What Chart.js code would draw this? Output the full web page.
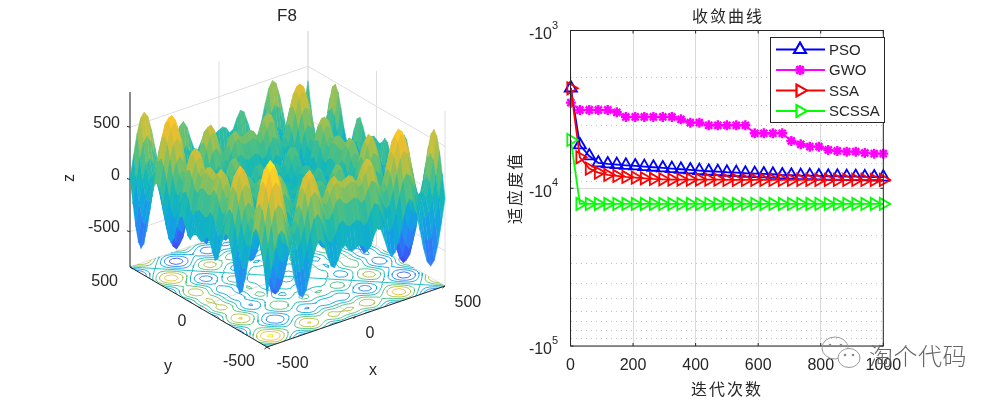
<!DOCTYPE html>
<html>
<head>
<meta charset="utf-8">
<style>
  html, body { margin: 0; background: #fff; }
  canvas { position: absolute; top: 0; }
  #chartSurface { left: 0; }
  #chartCurve { left: 500px; }
</style>
<script src="https://cdn.jsdelivr.net/npm/chart.js@4/dist/chart.umd.min.js"></script>
</head>
<body>
<canvas id="chartSurface" width="500" height="400"></canvas>
<canvas id="chartCurve" width="500" height="400"></canvas>
<script>
// convergence curves, magnitudes (the axis shows them as negative)
const iterations = [1,30,60,89,119,148,177,207,236,265,295,324,353,383,412,442,471,500,530,559,589,618,647,677,706,736,765,794,824,853,883,912,941,971,1000]
const pso = [2314,5317,6243,6914,7015,7086,7155,7223,7296,7360,7436,7511,7578,7656,7736,7803,7849,7918,7963,8034,8082,8118,8154,8237,8273,8320,8320,8356,8395,8395,8443,8443,8470,8490,8500]
const gwo = [2866,3191,3191,3191,3191,3301,3534,3534,3534,3534,3534,3534,3656,3839,3839,3990,3990,3990,3990,3990,4484,4484,4484,4484,5015,5265,5447,5447,5720,5805,5861,5861,5976,6034,6034]
const ssa = [2326,6365,7509,7960,8237,8359,8480,8564,8649,8733,8776,8816,8816,8816,8816,8816,8816,8859,8859,8859,8859,8859,8859,8859,8859,8859,8859,8859,8859,8859,8859,8859,8859,8859,8859]
const scssa = [4944,12577,12577,12577,12577,12577,12577,12577,12577,12577,12577,12577,12577,12577,12577,12577,12577,12577,12577,12577,12577,12577,12577,12577,12577,12577,12577,12577,12577,12577,12577,12577,12577,12577,12577]
const curveNames = ['PSO', 'GWO', 'SSA', 'SCSSA']
const curveXTicks = [0, 200, 400, 600, 800, 1000]
const curveYMajor = [1000, 10000, 100000]
const curveYMinor = [2000,3000,4000,5000,6000,7000,8000,9000,20000,30000,40000,50000,60000,70000,80000,90000]

// surface: height contribution along a floor axis
const floorSamples = [-500,-480,-460,-440,-420,-400,-380,-360,-340,-320,-300,-280,-260,-240,-220,-200,-180,-160,-140,-120,-100,-80,-60,-40,-20,0,20,40,60,80,100,120,140,160,180,200,220,240,260,280,300,320,340,360,380,400,420,440,460,480,500]
const edgeHeights = [-181,39,238,374,419,365,228,45,-136,-263,-300,-239,-105,51,169,200,135,13,-94,-120,-54,37,60,2,-19,0,19,-2,-60,-37,54,120,94,-13,-135,-200,-169,-51,105,239,300,263,136,-45,-228,-365,-419,-374,-238,-39,181]
const surfaceTicksXY = [-500, 0, 500]
const surfaceTicksZ = [-500, 0, 500]
const contourLevels = [-800,-600,-400,-200,0,200,400,600,800]
const zLimit = 837

const surfaceMap = [[62,60,230],[60,85,245],[40,135,245],[15,165,225],[20,184,185],[85,192,125],[185,192,65],[248,190,45],[250,240,30]]
const textColor = '#262626'
const latin = '"Liberation Sans", Arial, sans-serif'
const cjk = '"Noto Sans CJK SC", sans-serif'

function heightColor(z) {
    const t = Math.min(0.9999, Math.max(0, (z + zLimit) / (2 * zLimit))) * (surfaceMap.length - 1)
    const k = Math.floor(t), f = t - k
    const a = surfaceMap[k], b = surfaceMap[k + 1]
    return 'rgb(' + [0, 1, 2].map(c => Math.round(a[c] + (b[c] - a[c]) * f)).join(',') + ')'
}

// orthographic view of the box, x and y in data units, result in canvas pixels
function project(x, y, z) {
    const u = (x + 500) / 1000, v = (y + 500) / 1000
    return {
        x: 267 + u * 178 - v * 137,
        y: 347 - u * 61 - v * 80 - (z + zLimit) * 0.1045
    }
}

function drawText(ctx, text, x, y, font, opts) {
    opts = opts || {}
    ctx.save()
    ctx.translate(x, y)
    if (opts.rotate) ctx.rotate(opts.rotate)
    ctx.font = font
    ctx.fillStyle = opts.color || textColor
    ctx.textAlign = opts.align || 'center'
    ctx.textBaseline = 'middle'
    if (opts.spacing) ctx.letterSpacing = opts.spacing
    ctx.fillText(text, 0, 0)
    ctx.restore()
}

function lineSet(points, color, width) {
    return {
        type: 'line', data: points, borderColor: color, borderWidth: width,
        pointRadius: 0, tension: 0, fill: false, spanGaps: false
    }
}

function segmentsToPoints(segments) {
    const pts = []
    segments.forEach(s => { pts.push(s[0], s[1], { x: NaN, y: NaN }) })
    return pts
}

function contourSegments(level) {
    const segs = [], n = floorSamples.length
    const h = (i, j) => edgeHeights[i] + edgeHeights[j] - level
    const cross = (i1, j1, i2, j2) => {
        const a = h(i1, j1), b = h(i2, j2), t = a / (a - b)
        const x = floorSamples[i1] + (floorSamples[i2] - floorSamples[i1]) * t
        const y = floorSamples[j1] + (floorSamples[j2] - floorSamples[j1]) * t
        return project(x, y, -zLimit)
    }
    for (let i = 0; i < n - 1; i++) {
        for (let j = 0; j < n - 1; j++) {
            const edges = [[i, j, i + 1, j], [i + 1, j, i + 1, j + 1], [i + 1, j + 1, i, j + 1], [i, j + 1, i, j]]
            const hits = edges.filter(e => (h(e[0], e[1]) >= 0) !== (h(e[2], e[3]) >= 0)).map(e => cross(e[0], e[1], e[2], e[3]))
            if (hits.length >= 2) segs.push([hits[0], hits[1]])
            if (hits.length === 4) segs.push([hits[2], hits[3]])
        }
    }
    return segs
}

function surfaceDatasets() {
    const sets = [], n = floorSamples.length

    // walls and floor grid
    const grid = []
    surfaceTicksXY.forEach(t => {
        grid.push([project(t, -500, -zLimit), project(t, 500, -zLimit)])
        grid.push([project(-500, t, -zLimit), project(500, t, -zLimit)])
        grid.push([project(t, 500, -zLimit), project(t, 500, zLimit)])
        grid.push([project(500, t, -zLimit), project(500, t, zLimit)])
    })
    surfaceTicksZ.forEach(t => {
        grid.push([project(-500, 500, t), project(500, 500, t)])
        grid.push([project(500, 500, t), project(500, -500, t)])
    })
    sets.push(lineSet(segmentsToPoints(grid), '#dedede', 1))

    contourLevels.forEach(level => {
        sets.push(lineSet(segmentsToPoints(contourSegments(level)), heightColor(level), 0.9))
    })

    // axes with their tick marks
    const axes = [
        [project(-500, -500, -zLimit), project(500, -500, -zLimit)],
        [project(-500, -500, -zLimit), project(-500, 500, -zLimit)],
        [project(-500, 500, -zLimit), project(-500, 500, zLimit)]
    ]
    surfaceTicksXY.forEach(t => {
        const a = project(t, -500, -zLimit), b = project(-500, t, -zLimit)
        axes.push([a, { x: a.x - 2.5, y: a.y + 2 }])
        axes.push([b, { x: b.x + 3, y: b.y + 2 }])
    })
    surfaceTicksZ.forEach(t => {
        const a = project(-500, 500, t)
        axes.push([a, { x: a.x - 3, y: a.y - 1 }])
    })
    sets.push(lineSet(segmentsToPoints(axes), textColor, 1))

    // facets, back to front
    for (let i = n - 2; i >= 0; i--) {
        for (let j = n - 2; j >= 0; j--) {
            const corners = [[i, j], [i + 1, j], [i + 1, j + 1], [i, j + 1]]
            const zs = corners.map(c => edgeHeights[c[0]] + edgeHeights[c[1]])
            const color = heightColor((zs[0] + zs[1] + zs[2] + zs[3]) / 4)
            sets.push({
                type: 'line',
                data: corners.map((c, k) => project(floorSamples[c[0]], floorSamples[c[1]], zs[k])),
                borderColor: color, backgroundColor: color, borderWidth: 0.6,
                pointRadius: 0, tension: 0, fill: 'shape'
            })
        }
    }
    // first dataset is painted last
    return sets.reverse()
}

const surfaceLabels = {
    id: 'surfaceLabels',
    afterDraw(chart) {
        const ctx = chart.ctx, f = '16px ' + latin
        drawText(ctx, 'F8', 287, 16, '17px ' + latin)
        surfaceTicksZ.forEach(t => {
            const p = project(-500, 500, t)
            drawText(ctx, String(t), p.x - 10, p.y - 4, f, { align: 'right' })
        })
        surfaceTicksXY.forEach(t => {
            const a = project(t, -500, -zLimit), b = project(-500, t, -zLimit)
            drawText(ctx, String(t), a.x + 9.5, a.y + 17, f, { align: 'left' })
            drawText(ctx, String(t), b.x - 12, b.y + 15, f, { align: 'right' })
        })
        drawText(ctx, 'x', 373, 371, f)
        drawText(ctx, 'y', 168, 367, f)
        drawText(ctx, 'z', 70, 178, f, { rotate: -Math.PI / 2 })
    }
}

new Chart(document.getElementById('chartSurface'), {
    type: 'line',
    data: { datasets: surfaceDatasets() },
    options: {
        responsive: false,
        animation: false,
        events: [],
        layout: { padding: 0 },
        plugins: { legend: { display: false }, tooltip: { enabled: false }, title: { display: false } },
        scales: {
            x: { type: 'linear', min: 0, max: 500, display: false },
            y: { type: 'linear', min: 0, max: 400, reverse: true, display: false }
        }
    },
    plugins: [surfaceLabels]
})

const curveStyles = [
    { color: '#0000ff', pointStyle: 'triangle', rotation: 0, radius: 7, order: 4 },
    { color: '#ff00ff', pointStyle: 'star', rotation: 0, radius: 5, order: 3 },
    { color: '#ff0000', pointStyle: 'triangle', rotation: 90, radius: 7, order: 2 },
    { color: '#00ff00', pointStyle: 'triangle', rotation: 90, radius: 7, order: 1 }
]

function curveDataset(index, values) {
    const s = curveStyles[index]
    return {
        label: curveNames[index],
        data: values.map((v, k) => ({ x: iterations[k], y: v })),
        borderColor: s.color, backgroundColor: 'rgba(0,0,0,0)',
        borderWidth: 1.8, tension: 0, clip: false, order: s.order,
        pointStyle: s.pointStyle, pointRotation: s.rotation, pointRadius: s.radius,
        pointBorderColor: s.color, pointBorderWidth: s.pointStyle === 'star' ? 2.4 : 1.8
    }
}

const curveFrame = {
    id: 'curveFrame',
    afterDatasetsDraw(chart) {
        const ctx = chart.ctx, area = chart.chartArea
        const xs = chart.scales.x, ys = chart.scales.y
        ctx.save()
        ctx.strokeStyle = textColor
        ctx.lineWidth = 1
        ctx.strokeRect(area.left, area.top, area.right - area.left, area.bottom - area.top)
        ctx.beginPath()
        curveXTicks.forEach(t => {
            const px = xs.getPixelForValue(t)
            ctx.moveTo(px, area.bottom); ctx.lineTo(px, area.bottom - 3)
            ctx.moveTo(px, area.top); ctx.lineTo(px, area.top + 3)
        })
        curveYMajor.forEach(t => {
            const py = ys.getPixelForValue(t)
            ctx.moveTo(area.left, py); ctx.lineTo(area.left + 3, py)
            ctx.moveTo(area.right, py); ctx.lineTo(area.right - 3, py)
        })
        ctx.stroke()
        ctx.restore()
    },
    afterDraw(chart) {
        const ctx = chart.ctx, ys = chart.scales.y
        const area = chart.chartArea, mid = (area.left + area.right) / 2

        drawText(ctx, '收敛曲线', mid + 1, 16, '16px ' + cjk, { spacing: '2px' })
        drawText(ctx, '迭代次数', mid, 389, '16px ' + cjk, { spacing: '2px' })
        drawText(ctx, '适应度值', 15, 188, '16px ' + cjk, { spacing: '2px', rotate: -Math.PI / 2 })

        curveYMajor.forEach(t => {
            const py = ys.getPixelForValue(t)
            drawText(ctx, '-10', area.left - 18.5, py + 4, '16px ' + latin, { align: 'right' })
            drawText(ctx, String(Math.round(Math.log10(t))), area.left - 18.5, py - 5, '11px ' + latin, { align: 'left' })
        })

        // legend box
        ctx.save()
        ctx.fillStyle = '#fff'
        ctx.strokeStyle = textColor
        ctx.lineWidth = 1
        ctx.fillRect(270.5, 37.5, 114, 85)
        ctx.strokeRect(270.5, 37.5, 114, 85)
        curveNames.forEach((name, i) => {
            const s = curveStyles[i], y = 49.5 + i * 20.5
            ctx.strokeStyle = s.color
            ctx.lineWidth = 1.8
            ctx.beginPath()
            ctx.moveTo(276, y); ctx.lineTo(325, y)
            ctx.stroke()
            ctx.lineWidth = s.pointStyle === 'star' ? 2.4 : 1.8
            Chart.helpers.drawPoint(ctx, { pointStyle: s.pointStyle, rotation: s.rotation, radius: s.radius, borderWidth: ctx.lineWidth }, 300, y)
            ctx.stroke()
            drawText(ctx, name, 329, y + 1, '15px ' + latin, { align: 'left' })
        })
        ctx.restore()

        // watermark
        ctx.save()
        ctx.strokeStyle = '#9a9a9a'
        ctx.lineWidth = 1
        ctx.fillStyle = '#fff'
        ctx.beginPath(); ctx.ellipse(335, 348, 13, 11, 0, 0, Math.PI * 2); ctx.stroke()
        ctx.beginPath(); ctx.ellipse(349, 358, 11, 9.5, 0, 0, Math.PI * 2); ctx.fill(); ctx.stroke()
        ctx.fillStyle = '#888'
        ;[[330, 345], [341, 345], [345, 355], [353, 355]].forEach(p => {
            ctx.beginPath(); ctx.arc(p[0], p[1], 1.3, 0, Math.PI * 2); ctx.fill()
        })
        ctx.restore()
        drawText(ctx, '淘个代码', 418, 356, '300 24px ' + cjk, { color: '#666', spacing: '0.5px' })
    }
}

new Chart(document.getElementById('chartCurve'), {
    type: 'line',
    data: { datasets: [curveDataset(0, pso), curveDataset(1, gwo), curveDataset(2, ssa), curveDataset(3, scssa)] },
    options: {
        responsive: false,
        animation: false,
        events: [],
        layout: { padding: { left: 0, top: 30.5, right: 116.7, bottom: 0 } },
        plugins: { legend: { display: false }, tooltip: { enabled: false }, title: { display: false } },
        scales: {
            x: {
                type: 'linear', min: 0, max: 1000,
                afterBuildTicks: s => { s.ticks = curveXTicks.map(v => ({ value: v })) },
                afterFit: s => { s.height = 54 },
                grid: { color: '#d9d9d9', drawTicks: false },
                border: { display: false },
                ticks: { color: textColor, font: { family: latin, size: 16 }, padding: 10, maxRotation: 0, autoSkip: false, callback: v => String(v) }
            },
            y: {
                type: 'logarithmic', min: 1000, max: 100000, reverse: true, position: 'left',
                afterBuildTicks: s => { s.ticks = curveYMajor.map(v => ({ value: v, major: true })) },
                afterFit: s => { s.width = 70.5 },
                grid: { color: '#d9d9d9', drawTicks: false },
                border: { display: false },
                ticks: { display: false }
            },
            yMinor: {
                type: 'logarithmic', min: 1000, max: 100000, reverse: true, position: 'left',
                afterBuildTicks: s => { s.ticks = curveYMinor.map(v => ({ value: v })) },
                afterFit: s => { s.width = 0 },
                grid: { color: '#c4c4c4', drawTicks: false },
                border: { display: false, dash: [1, 4] },
                ticks: { display: false }
            }
        }
    },
    plugins: [curveFrame]
})
</script>
</body>
</html>
